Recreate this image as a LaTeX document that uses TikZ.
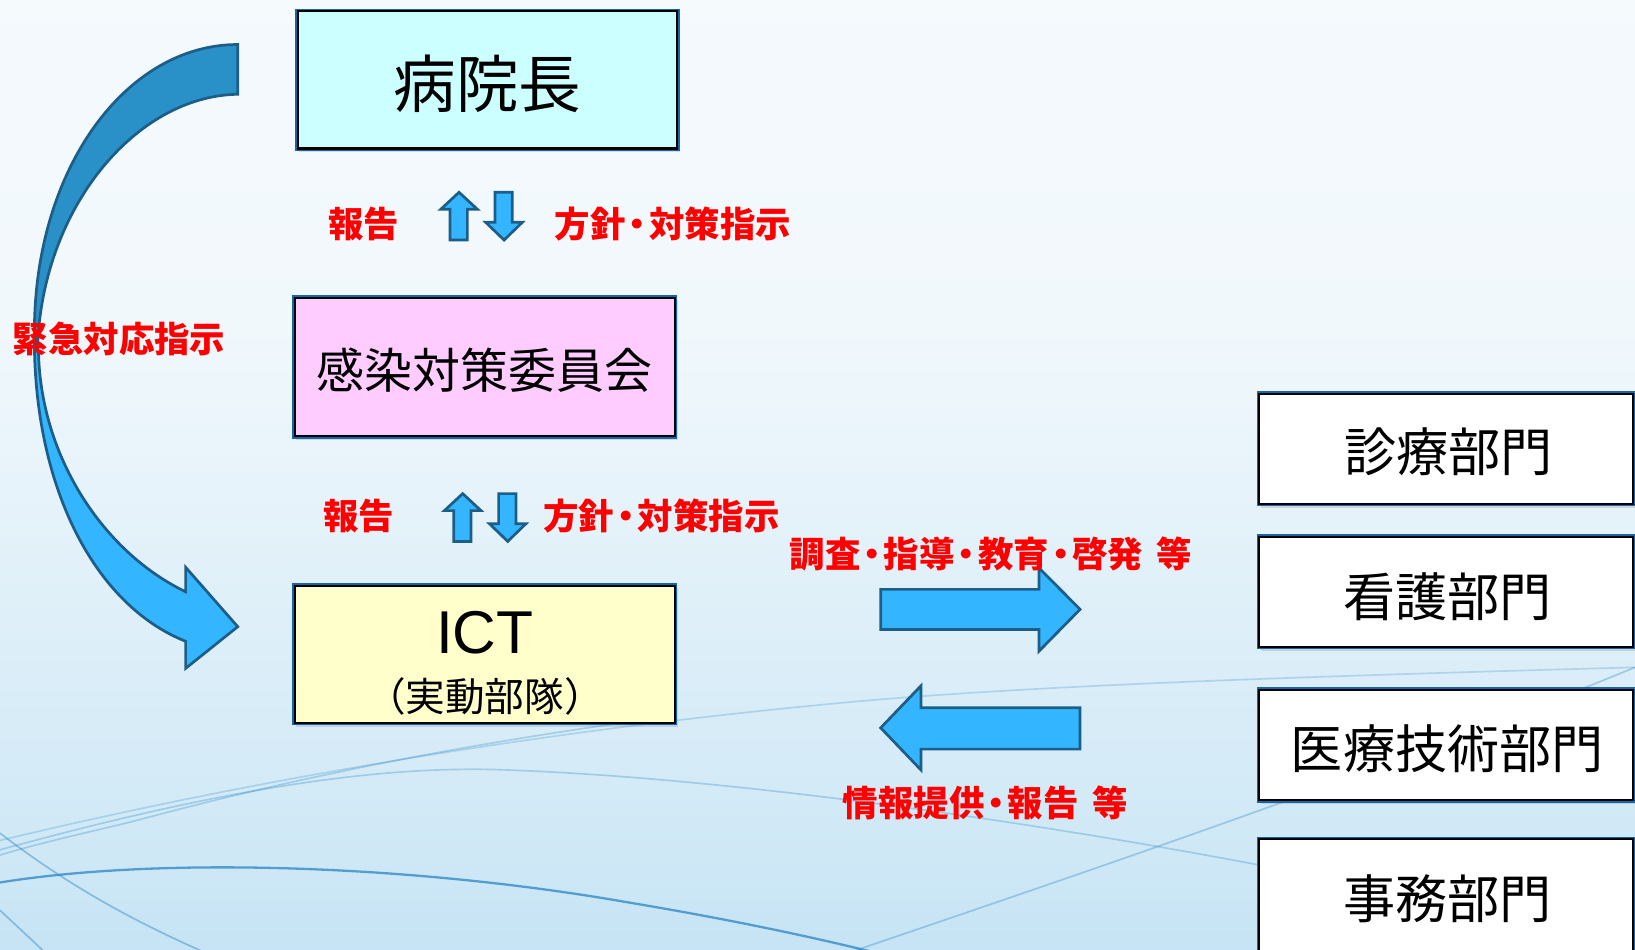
\documentclass[tikz,border=0pt]{standalone}
\usepackage{fontspec}
\newfontfamily\jp{Noto Sans CJK JP}
\newfontfamily\lat{Liberation Sans}
\usetikzlibrary{shadows}
\definecolor{bordblue}{HTML}{1565A8}
\definecolor{arrfill}{HTML}{33B5FF}
\definecolor{arrdark}{HTML}{2A90C8}
\definecolor{arredge}{HTML}{1C5E88}
\definecolor{bgtop}{HTML}{FAFCFE}
\definecolor{bgup}{HTML}{F1F8FC}
\definecolor{bgmid}{HTML}{CFE8F6}
\definecolor{bgbot}{HTML}{97CDEE}
\definecolor{cyanbox}{HTML}{CCFFFF}
\definecolor{pinkbox}{HTML}{FFCCFF}
\definecolor{yelbox}{HTML}{FFFFCC}
\definecolor{swoosh}{HTML}{2A86C4}
\definecolor{jred}{HTML}{FF0000}
\pgfdeclareverticalshading{bgshade}{100bp}{color(0bp)=(bgbot); color(30bp)=(bgmid); color(58bp)=(bgup); color(100bp)=(bgtop)}
\newcommand\jdot{\kern-0.17em・\kern-0.17em}
\newcommand\jsp{\hspace{0.38em}}
\begin{document}
\begin{tikzpicture}[x=1pt,y=-1pt,
  box/.style={rectangle, draw=bordblue, line width=3.4, inner sep=0pt,
    drop shadow={shadow xshift=2pt, shadow yshift=-3pt, opacity=0.25}},
  big/.style={font=\jp\fontsize{60}{60}\selectfont},
  mid/.style={font=\jp\fontsize{46}{46}\selectfont},
  dept/.style={font=\jp\fontsize{50}{50}\selectfont},
  redlbl/.style={font=\jp\bfseries\fontsize{34}{34}\selectfont, text=jred, inner sep=0pt},
  blk/.style={fill=arrfill, draw=arredge, line width=2.6, line join=miter},
  swl/.style={draw=swoosh, line width=1.6, opacity=0.45}]
\useasboundingbox (0,0) rectangle (1568,911);
\begin{scope}
\clip (0,0) rectangle (1568,911);
\shade[shading=bgshade] (0,0) rectangle (1568,911);
% decorative swooshes
\draw[swl, opacity=0.75, line width=2.2] (-10,848) .. controls (150,820) and (400,830) .. (600,865) .. controls (750,890) and (850,915) .. (920,935);
\draw[swl, opacity=0.3] (0,815) .. controls (200,760) and (350,735) .. (474,738) .. controls (700,745) and (1000,790) .. (1210,830) .. controls (1350,855) and (1450,880) .. (1568,900);
\draw[swl] (0,799) .. controls (60,845) and (120,880) .. (200,915);
\draw[swl, opacity=0.25] (0,806) .. controls (150,770) and (450,705) .. (841,671) .. controls (1000,658) and (1200,650) .. (1568,640);
\draw[swl, opacity=0.3] (0,820) .. controls (50,805) and (100,795) .. (134,786) .. controls (250,755) and (400,720) .. (620,690);
\draw[swl] (0,873) -- (45,915);
\draw[swl, opacity=0.35] (810,915) .. controls (1000,850) and (1300,750) .. (1568,640);

% curved arrow (emergency)
\fill[arrfill, draw=arredge, line width=2.6] (33,318) .. controls (31,465) and (90,580) .. (178,615) -- (178,641) -- (228,601) -- (178,544) -- (178,567.5) .. controls (100,530) and (40,440) .. (37,340) -- cycle;
\fill[arrdark, draw=arredge, line width=2.6] (228,42.7) .. controls (120.3,42.7) and (33,162.5) .. (33,318) -- (36,334) .. controls (40,200) and (130,92) .. (228,90.4) -- cycle;

% boxes
\node[box, fill=cyanbox, minimum width=365, minimum height=133] (hosp) at (467.5,76.5) {};
\node[box, fill=pinkbox, minimum width=366, minimum height=134] (comm) at (465,352) {};
\node[box, fill=yelbox, minimum width=366, minimum height=133] (ictb) at (465,627.5) {};
\node[box, fill=white, minimum width=360, minimum height=107] (d1) at (1387,430.5) {};
\node[box, fill=white, minimum width=360, minimum height=107] (d2) at (1387,567.5) {};
\node[box, fill=white, minimum width=360, minimum height=107] (d3) at (1387,714.5) {};
\node[box, fill=white, minimum width=360, minimum height=109] (d4) at (1387,858.5) {};
\foreach \n in {hosp,comm,ictb,d1,d2,d3,d4}
  \draw[black, line width=2.2] ([shift={(2.4,-2.4)}]\n.south west) rectangle ([shift={(-2.4,2.4)}]\n.north east);

% box texts
\node[big] (hospt) at (467.5,80) {病院長};
\node[mid] (commt) at (465,355) {感染対策委員会};
\node[font=\lat\fontsize{58}{58}\selectfont] (ictt) at (465,607) {ICT};
\node[font=\jp\fontsize{38}{38}\selectfont] (icts) at (465,668) {\kern-0.25em（実動部隊）\kern-0.25em};
\node[dept] (d1t) at (1389,433) {診療部門};
\node[dept] (d2t) at (1388,572) {看護部門};
\node[dept] (d3t) at (1388,718) {医療技術部門};
\node[dept] (d4t) at (1388,862) {事務部門};

% small up/down arrows
\foreach \dx/\dy in {0/0, 3.5/289} {
  \begin{scope}[shift={(\dx,\dy)}]
    \path[blk] (440.2,184.4) -- (457.8,200.7) -- (448.2,200.7) -- (448.2,230.2) -- (431.6,230.2) -- (431.6,200.7) -- (422.7,200.7) -- cycle;
    \path[blk] (474.7,184.4) -- (491.3,184.4) -- (491.3,213.2) -- (500.9,213.2) -- (483.4,230.2) -- (465.8,213.2) -- (474.7,213.2) -- cycle;
  \end{scope}
}

% big horizontal arrows
\path[blk] (844.6,565.2) -- (996.5,565.2) -- (996.5,544.7) -- (1035.8,584.4) -- (996.5,624.4) -- (996.5,603.6) -- (844.6,603.6) -- cycle;
\path[blk] (844.6,698) -- (883.3,657.6) -- (883.3,678.7) -- (1035.8,678.7) -- (1035.8,718.4) -- (883.3,718.4) -- (883.3,738.5) -- cycle;

% red labels
\node[redlbl] (rep1) at (349,215) {報告};
\node[redlbl, anchor=west] (pol1) at (532,215) {方針\jdot 対策指示};
\node[redlbl] (rep2) at (344,495) {報告};
\node[redlbl, anchor=west] (pol2) at (521,495) {方針\jdot 対策指示};
\node[redlbl, anchor=west] (emg) at (12,325) {緊急対応指示};
\node[redlbl, anchor=west] (inv) at (757,531) {調査\jdot 指導\jdot 教育\jdot 啓発\jsp 等};
\node[redlbl, anchor=west] (inf) at (808,770) {情報提供\jdot 報告\jsp 等};
\end{scope}
\end{tikzpicture}
\end{document}
